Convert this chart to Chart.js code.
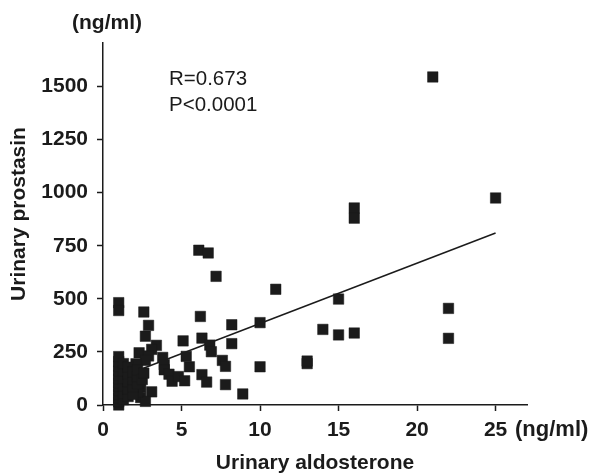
<!DOCTYPE html>
<html>
<head>
<meta charset="utf-8">
<script src="https://cdn.jsdelivr.net/npm/chart.js@4"></script>
<style>
  html, body { margin: 0; padding: 0; background: #fff; }
  #wrap { width: 594px; height: 473px; position: relative; }
</style>
</head>
<body>
<div id="wrap"><canvas id="c" width="594" height="473"></canvas></div>
<script>
// Urinary aldosterone (ng/ml)
const aldosterone = [
  21, 25, 16, 16, 22, 22, 15, 15, 16, 14, 13, 13, 11,
  6.1, 6.7, 7.2, 6.2, 8.2, 10, 6.3, 6.8, 6.9, 8.2, 7.6, 7.8, 10, 5.5, 6.3, 6.6, 7.8, 8.9,
  5.1, 5.3, 2.7, 3.4, 3.1, 2.3, 2.9, 2.7, 3.8, 3.9, 2.1, 3.9, 4.2, 4.4, 4.8, 5.2, 3.1, 2.4, 2.7, 2.4, 2.2,
  1, 1, 2.6, 2.9,
  1, 1, 1, 1, 1, 1, 1, 1, 1, 1, 1, 1, 1,
  1.3, 1.3, 1.3, 1.3, 1.3, 1.3,
  1.6, 1.6, 1.6, 1.6, 1.6,
  1.9, 1.9, 1.9, 1.9,
  2.2, 2.2, 2.2, 2.5, 2.6
];
// Urinary prostasin (ng/ml)
const prostasin = [
  1545, 975, 928, 880, 455, 314, 499, 330, 339, 356, 195, 207, 545,
  729, 716, 606, 417, 378, 388, 315, 282, 251, 289, 210, 182, 180, 180, 143, 108, 96, 52,
  302, 229, 324, 281, 262, 246, 231, 210, 224, 190, 194, 166, 145, 112, 134, 114, 62, 35, 17, 84, 60,
  482, 445, 438, 375,
  0, 15, 32, 50, 68, 86, 104, 122, 140, 160, 182, 205, 228,
  25, 55, 90, 125, 160, 195,
  40, 75, 110, 145, 178,
  50, 85, 120, 155,
  100, 135, 165, 120, 150
];
// Regression line end points
const fitX = [1, 25];
const fitY = [128, 810];

const xTicks = [0, 5, 10, 15, 20, 25];
const yTicks = [0, 250, 500, 750, 1000, 1250, 1500];
const annotationLines = ['R=0.673', 'P<0.0001'];
const yTitle = 'Urinary prostasin';
const xTitle = 'Urinary aldosterone';
const unitLabel = '(ng/ml)';

const INK = '#1b1b1b';
const FONT = "'Liberation Sans', Arial, Helvetica, sans-serif";

const scatterPoints = aldosterone.map((x, i) => ({ x: x, y: prostasin[i] }));
const linePoints = fitX.map((x, i) => ({ x: x, y: fitY[i] }));

const textPlugin = {
  id: 'texts',
  afterDraw(chart) {
    const ctx = chart.ctx;
    ctx.save();
    ctx.fillStyle = INK;
    // top unit
    ctx.font = "bold 21px " + FONT;
    ctx.textAlign = 'center';
    ctx.textBaseline = 'alphabetic';
    ctx.fillText(unitLabel, 107, 29);
    // right unit on x axis
    ctx.font = "bold 22px " + FONT;
    ctx.textAlign = 'left';
    ctx.fillText(unitLabel, 515, 436);
    // annotation
    ctx.font = "20.5px " + FONT;
    ctx.fillText(annotationLines[0], 169, 85);
    ctx.fillText(annotationLines[1], 169, 111);
    // y title
    ctx.font = "bold 21px " + FONT;
    ctx.translate(25, 214);
    ctx.rotate(-Math.PI / 2);
    ctx.textAlign = 'center';
    ctx.fillText(yTitle, 0, 0);
    ctx.restore();
  }
};

new Chart(document.getElementById('c'), {
  type: 'scatter',
  data: {
    datasets: [
      {
        type: 'line',
        data: linePoints,
        borderColor: INK,
        borderWidth: 1.5,
        pointRadius: 0,
        fill: false,
        order: 2
      },
      {
        data: scatterPoints,
        pointStyle: 'rect',
        pointRadius: 7.4,
        pointHoverRadius: 7.4,
        backgroundColor: INK,
        borderColor: INK,
        borderWidth: 0.5,
        clip: false,
        order: 1
      }
    ]
  },
  options: {
    responsive: false,
    animation: false,
    events: [],
    layout: { padding: { left: 0, right: 67, top: 43, bottom: 0 } },
    plugins: { legend: { display: false }, tooltip: { enabled: false }, title: { display: false } },
    scales: {
      x: {
        type: 'linear',
        min: 0,
        max: 27,
        afterBuildTicks: (s) => { s.ticks = xTicks.map(v => ({ value: v })); },
        afterFit: (s) => { s.height = 68; },
        grid: { display: true, drawOnChartArea: false, drawTicks: true, tickLength: 6, tickColor: INK, tickWidth: 1.5 },
        border: { display: true, color: INK, width: 1.5 },
        ticks: { color: INK, font: { family: FONT, size: 21, weight: 'bold' }, padding: 7, maxRotation: 0, callback: (v) => String(v) },
        title: {
          display: true,
          text: xTitle,
          color: INK,
          font: { family: FONT, size: 21, weight: 'bold', lineHeight: 1 },
          padding: { top: 0, bottom: -1 }
        }
      },
      y: {
        type: 'linear',
        min: 0,
        max: 1705,
        afterBuildTicks: (s) => { s.ticks = yTicks.map(v => ({ value: v })); },
        afterFit: (s) => { s.width = 103; },
        grid: { display: true, drawOnChartArea: false, drawTicks: true, tickLength: 6, tickColor: INK, tickWidth: 1.5 },
        border: { display: true, color: INK, width: 1.5 },
        ticks: { color: INK, font: { family: FONT, size: 21, weight: 'bold' }, padding: 9, callback: (v) => String(v) },
        title: { display: false }
      }
    }
  },
  plugins: [textPlugin]
});
</script>
</body>
</html>
